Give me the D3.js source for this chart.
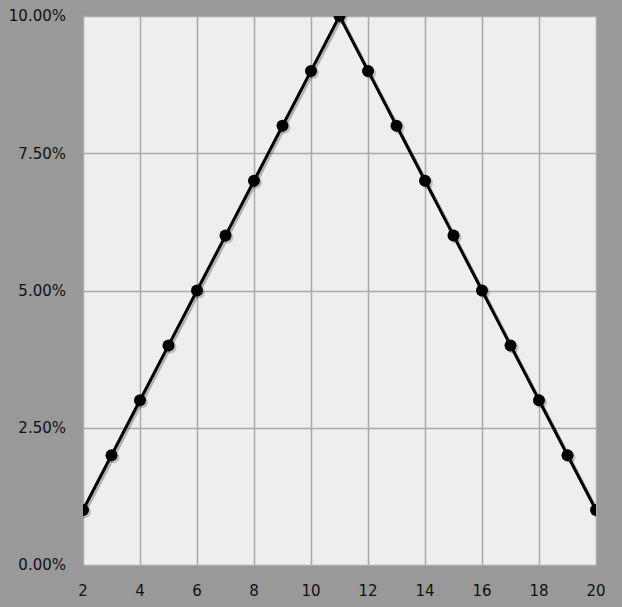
<!DOCTYPE html>
<html>
<head>
<meta charset="utf-8">
<script src="https://cdn.jsdelivr.net/npm/d3@7"></script>
<style>
  body { margin: 0; background: #999999; }
  svg { display: block; }
  text { font-family: "DejaVu Sans", Verdana, sans-serif; font-size: 15px; fill: #111; }
</style>
</head>
<body>
<svg id="chart" width="622" height="607"></svg>
<script>
const xValues = [2, 3, 4, 5, 6, 7, 8, 9, 10, 11, 12, 13, 14, 15, 16, 17, 18, 19, 20];
const yValues = [1, 2, 3, 4, 5, 6, 7, 8, 9, 10, 9, 8, 7, 6, 5, 4, 3, 2, 1];
const xTicks = [2, 4, 6, 8, 10, 12, 14, 16, 18, 20];
const yTicks = [0, 2.5, 5, 7.5, 10];

const width = 622, height = 607;
const margin = { top: 16, right: 26, bottom: 42, left: 83 };

const svg = d3.select("#chart");
svg.append("rect").attr("width", width).attr("height", height).attr("fill", "#999999");

const x = d3.scaleLinear().domain([2, 20]).range([margin.left, width - margin.right]);
const y = d3.scaleLinear().domain([0, 10]).range([height - margin.bottom, margin.top]);

svg.append("defs").append("clipPath").attr("id", "plotClip")
  .append("rect")
  .attr("x", margin.left).attr("y", margin.top)
  .attr("width", x(20) - x(2)).attr("height", y(0) - y(10));

svg.append("rect")
  .attr("x", margin.left).attr("y", margin.top)
  .attr("width", x(20) - x(2)).attr("height", y(0) - y(10))
  .attr("fill", "#eeeeee");

// grid
svg.append("g").selectAll("line").data(xTicks).enter().append("line")
  .attr("x1", d => Math.round(x(d)) + 0.5).attr("x2", d => Math.round(x(d)) + 0.5)
  .attr("y1", y(10)).attr("y2", y(0))
  .style("stroke", "#aaaaaa").style("stroke-width", 1.5);
svg.append("g").selectAll("line").data(yTicks).enter().append("line")
  .attr("x1", x(2)).attr("x2", x(20))
  .attr("y1", d => Math.round(y(d)) + 0.5).attr("y2", d => Math.round(y(d)) + 0.5)
  .style("stroke", "#aaaaaa").style("stroke-width", 1.5);

// axes labels
svg.append("g").selectAll("text").data(yTicks).enter().append("text")
  .attr("x", 66).attr("y", d => y(d)).attr("dy", "0.35em")
  .attr("text-anchor", "end")
  .text(d => d.toFixed(2) + "%");
svg.append("g").selectAll("text").data(xTicks).enter().append("text")
  .attr("x", d => x(d)).attr("y", 591).attr("dy", "0.35em")
  .attr("text-anchor", "middle")
  .text(d => d);

const data = xValues.map((v, i) => ({ x: v, y: yValues[i] }));
const line = d3.line().x(d => x(d.x)).y(d => y(d.y));

const plot = svg.append("g").attr("clip-path", "url(#plotClip)");

// shadow
plot.append("path").datum(data)
  .attr("d", line)
  .attr("transform", "translate(2,2)")
  .style("fill", "none").style("stroke", "#000").style("stroke-opacity", 0.25)
  .style("stroke-width", 3);
plot.append("g").attr("transform", "translate(2,2)")
  .selectAll("circle").data(data).enter().append("circle")
  .attr("cx", d => x(d.x)).attr("cy", d => y(d.y)).attr("r", 6)
  .style("fill", "#000").style("fill-opacity", 0.2);

plot.append("path").datum(data)
  .attr("d", line)
  .style("fill", "none").style("stroke", "#000").style("stroke-width", 3);
plot.selectAll(".pt").data(data).enter().append("circle")
  .attr("class", "pt")
  .attr("cx", d => x(d.x)).attr("cy", d => y(d.y)).attr("r", 6)
  .style("fill", "#000");
</script>
</body>
</html>
